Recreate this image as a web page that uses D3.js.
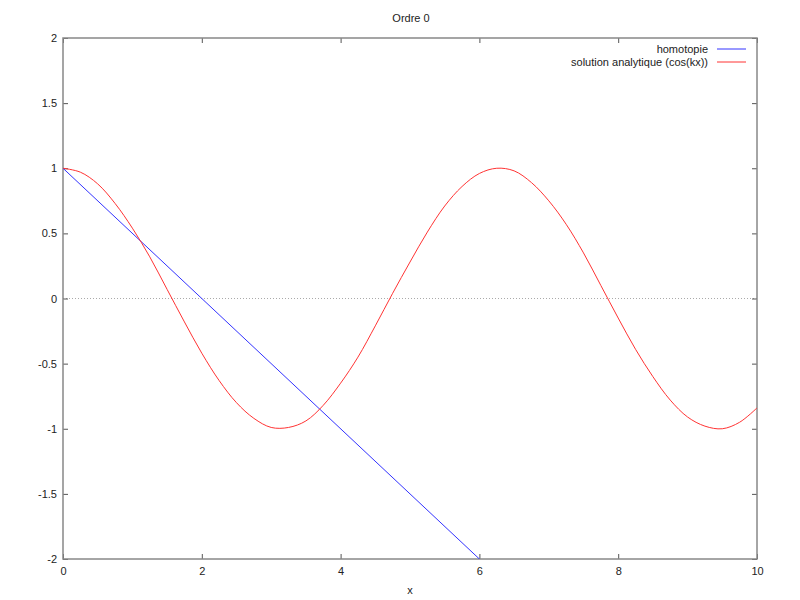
<!DOCTYPE html>
<html><head><meta charset="utf-8">
<script src="https://cdn.jsdelivr.net/npm/d3@7"></script>
<style>body{margin:0;background:#fff}svg{display:block}text{font-family:"Liberation Sans",Arial,sans-serif;fill:#222}</style>
</head><body><svg id="c" width="800" height="600"></svg>
<script>
const title = "Ordre 0";
const xLabel = "x";
const xTicks = [0, 2, 4, 6, 8, 10];
const yTicks = [-2, -1.5, -1, -0.5, 0, 0.5, 1, 1.5, 2];
const seriesNames = ["homotopie", "solution analytique (cos(kx))"];
const seriesColors = ["#3333ff", "#ff3333"];
// homotopie (straight line)
const homX = [0, 10];
const homY = [1, -4];
// analytic solution samples
const solX = [0,0.25,0.5,0.75,1,1.25,1.5,1.75,2,2.25,2.5,2.75,3,3.25,3.5,3.75,4,4.25,4.5,4.75,5,5.25,5.5,5.75,6,6.25,6.5,6.75,7,7.25,7.5,7.75,8,8.25,8.5,8.75,9,9.25,9.5,9.75,10];
const solY = [1,0.97,0.88,0.73,0.54,0.32,0.07,-0.18,-0.42,-0.63,-0.80,-0.92,-0.99,-0.99,-0.94,-0.82,-0.65,-0.45,-0.21,0.04,0.28,0.51,0.71,0.86,0.96,1,0.98,0.89,0.75,0.57,0.35,0.10,-0.15,-0.39,-0.60,-0.78,-0.91,-0.98,-1,-0.95,-0.84];

const FS = 11;
const svg = d3.select("#c");
const L = 63, R = 757, T = 38, B = 559;
const x = d3.scaleLinear().domain([0, 10]).range([L, R]);
const y = d3.scaleLinear().domain([-2, 2]).range([B, T]);

svg.append("defs").append("clipPath").attr("id", "clip")
  .append("rect").attr("x", L).attr("y", T).attr("width", R - L).attr("height", B - T);

// zero line
svg.append("line").attr("x1", L).attr("x2", R).attr("y1", y(0)).attr("y2", y(0))
  .attr("stroke", "#aaa").attr("stroke-width", 1).attr("stroke-dasharray", "1,2");

const tickLen = 5;
const axStyle = g => { g.select(".domain").remove(); g.selectAll("line").attr("stroke", "#555"); g.selectAll("text").attr("font-size", FS).attr("fill", "#222").attr("font-family", '"Liberation Sans",Arial,sans-serif'); };

svg.append("g").attr("transform", `translate(0,${B})`)
  .call(d3.axisTop(x).tickValues(xTicks).tickSize(tickLen).tickFormat(() => ""))
  .call(axStyle);
svg.append("g").attr("transform", `translate(0,${B})`)
  .call(d3.axisBottom(x).tickValues(xTicks).tickSize(0).tickPadding(8).tickFormat(d3.format("d")))
  .call(axStyle);
svg.append("g").attr("transform", `translate(0,${T})`)
  .call(d3.axisBottom(x).tickValues(xTicks).tickSize(tickLen).tickFormat(() => ""))
  .call(axStyle);
svg.append("g").attr("transform", `translate(${L},0)`)
  .call(d3.axisRight(y).tickValues(yTicks).tickSize(tickLen).tickFormat(() => ""))
  .call(axStyle);
svg.append("g").attr("transform", `translate(${L},0)`)
  .call(d3.axisLeft(y).tickValues(yTicks).tickSize(0).tickPadding(6).tickFormat(d => String(d)))
  .call(axStyle);
svg.append("g").attr("transform", `translate(${R},0)`)
  .call(d3.axisLeft(y).tickValues(yTicks).tickSize(tickLen).tickFormat(() => ""))
  .call(axStyle);

// frame
svg.append("rect").attr("x", L).attr("y", T).attr("width", R - L).attr("height", B - T)
  .attr("fill", "none").attr("stroke", "#888").attr("stroke-width", 1.5);

const line = d3.line().x(d => x(d[0])).y(d => y(d[1]));
const plot = svg.append("g").attr("clip-path", "url(#clip)");
plot.append("path").datum(homX.map((v, i) => [v, homY[i]])).attr("d", line)
  .attr("fill", "none").attr("stroke", seriesColors[0]).attr("stroke-width", 1);
plot.append("path").datum(solX.map((v, i) => [v, solY[i]])).attr("d", line.curve(d3.curveCatmullRom))
  .attr("fill", "none").attr("stroke", seriesColors[1]).attr("stroke-width", 1);

// legend
seriesNames.forEach((n, i) => {
  const yy = 49 + i * 13;
  svg.append("text").attr("x", 708).attr("y", yy).attr("dy", "0.35em").attr("text-anchor", "end")
    .attr("font-size", FS).text(n);
  svg.append("line").attr("x1", 717).attr("x2", 746).attr("y1", yy).attr("y2", yy)
    .attr("stroke", seriesColors[i]).attr("stroke-width", 1);
});

svg.append("text").attr("x", 411).attr("y", 18).attr("dy", "0.35em").attr("text-anchor", "middle").attr("font-size", FS).text(title);
svg.append("text").attr("x", 410).attr("y", 590).attr("dy", "0.35em").attr("text-anchor", "middle").attr("font-size", FS).text(xLabel);
</script></body></html>
